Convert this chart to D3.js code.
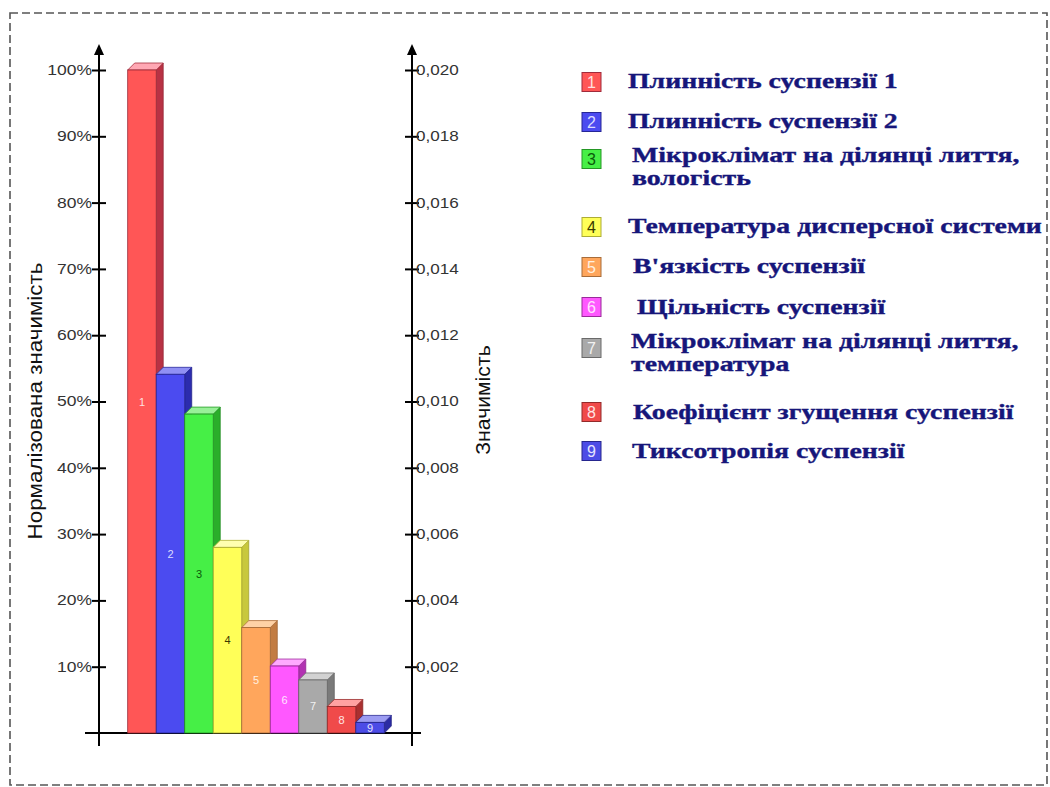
<!DOCTYPE html>
<html>
<head>
<meta charset="utf-8">
<script src="https://cdn.jsdelivr.net/npm/d3@7"></script>
<style>
  html, body { margin: 0; padding: 0; background: #fff; }
  svg { display: block; }
</style>
</head>
<body>
<svg id="chart" width="1050" height="787"></svg>
<script>
// Factor ids and their normalized significance (% of the strongest factor)
const factorIds = ["1", "2", "3", "4", "5", "6", "7", "8", "9"];
const normalizedValues = [100, 54.1, 48.1, 28.0, 15.9, 10.1, 8.0, 4.0, 1.6];
// Legend names (multi-line names split into lines)
const factorNames = [
  ["Плинність суспензії 1"],
  ["Плинність суспензії 2"],
  ["Мікроклімат на ділянці лиття,", "вологість"],
  ["Температура дисперсної системи"],
  ["В'язкість суспензії"],
  ["Щільність суспензії"],
  ["Мікроклімат на ділянці лиття,", "температура"],
  ["Коефіцієнт згущення суспензії"],
  ["Тиксотропія суспензії"]
];
// Tick values for both axes
const leftTicks = [10, 20, 30, 40, 50, 60, 70, 80, 90, 100];
const rightTicks = [0.002, 0.004, 0.006, 0.008, 0.010, 0.012, 0.014, 0.016, 0.018, 0.020];
const rightMax = 0.020;

// Face colours per bar: front, top, side, label
const frontColors = ["#ff5656", "#4b4bf0", "#46ef46", "#ffff58", "#ffa65c", "#ff58ff", "#a9a9a9", "#f04a4a", "#4c4ce6"];
const topColors   = ["#ffa8b4", "#9090f4", "#98f098", "#ffffb0", "#ffd2a6", "#ffaaff", "#d2d2d2", "#ffa2a2", "#9c9cf2"];
const sideColors  = ["#b83244", "#2c2cae", "#2aae2a", "#c8c83c", "#c27c42", "#b232b2", "#7a7a7a", "#aa3030", "#2c2ca4"];
const labelColors = ["#ffe0e0", "#dcdcff", "#0b5a0b", "#3a3a00", "#fff0e0", "#ffe4ff", "#f2f2f2", "#ffe4e4", "#e4e4ff"];

const sans = "Arial, 'Liberation Sans', sans-serif";
const svg = d3.select("#chart");

// Widen text horizontally (the drawing uses a wide, stretched lettering)
function widen(sel, factor) {
  sel.each(function () {
    const len = this.getComputedTextLength();
    d3.select(this).attr("textLength", len * factor).attr("lengthAdjust", "spacingAndGlyphs");
  });
}

// Dashed frame
svg.append("rect")
  .attr("x", 10).attr("y", 13).attr("width", 1037).attr("height", 772)
  .attr("fill", "none").attr("stroke", "#555").attr("stroke-width", 1.6)
  .attr("stroke-dasharray", "8,4");

const y0 = 733, yTop = 70;
const axisLeftX = 99, axisRightX = 412;

const y = d3.scaleLinear().domain([0, 100]).range([y0, yTop]);
const yRight = d3.scaleLinear().domain([0, rightMax]).range([y0, yTop]);
const x = d3.scaleBand().domain(factorIds).range([127.7, 384.3]).padding(0);

// Baseline
svg.append("line")
  .attr("x1", 85).attr("x2", 421).attr("y1", y0).attr("y2", y0)
  .attr("stroke", "#000").attr("stroke-width", 2);

// Left axis
const leftAxis = svg.append("g").attr("transform", `translate(${axisLeftX},0)`)
  .call(d3.axisLeft(y).tickValues(leftTicks).tickSize(7).tickFormat(d => d + "%"));
leftAxis.select(".domain").remove();
leftAxis.selectAll(".tick line").attr("x1", -7).attr("x2", 7).attr("stroke", "#000").attr("stroke-width", 2);
leftAxis.selectAll(".tick text").attr("x", -7).attr("font-family", sans)
  .attr("font-size", 14).attr("fill", "#333");
widen(leftAxis.selectAll(".tick text"), 1.25);
leftAxis.append("line").attr("x1", 0).attr("x2", 0).attr("y1", 746).attr("y2", 48)
  .attr("stroke", "#000").attr("stroke-width", 2);
leftAxis.append("path").attr("d", "M-5,55 L0,44 L5,55 Z").attr("fill", "#000");

// Right axis
const rightAxis = svg.append("g").attr("transform", `translate(${axisRightX},0)`)
  .call(d3.axisRight(yRight).tickValues(rightTicks).tickSize(7)
    .tickFormat(d => d3.format(".3f")(d).replace(".", ",")));
rightAxis.select(".domain").remove();
rightAxis.selectAll(".tick line").attr("x1", -7).attr("x2", 7).attr("stroke", "#000").attr("stroke-width", 2);
rightAxis.selectAll(".tick text").attr("x", 4).attr("font-family", sans)
  .attr("font-size", 14).attr("fill", "#333");
widen(rightAxis.selectAll(".tick text"), 1.22);
rightAxis.append("line").attr("x1", 0).attr("x2", 0).attr("y1", 746).attr("y2", 48)
  .attr("stroke", "#000").attr("stroke-width", 2);
rightAxis.append("path").attr("d", "M-5,55 L0,44 L5,55 Z").attr("fill", "#000");

// Axis titles
svg.append("text")
  .attr("transform", "translate(42,401) rotate(-90)")
  .attr("text-anchor", "middle")
  .attr("font-family", sans).attr("font-size", 20).attr("fill", "#111")
  .text("Нормалізована значимість")
  .call(widen, 1.12);
svg.append("text")
  .attr("transform", "translate(490,400) rotate(-90)")
  .attr("text-anchor", "middle")
  .attr("font-family", sans).attr("font-size", 20).attr("fill", "#111")
  .text("Значимість")
  .call(widen, 1.06);

// 3D bars (drawn left to right so each bar covers the side of the one before)
const depth = 7;
const bars = svg.append("g");
factorIds.forEach((id, i) => {
  const xl = x(id), xr = x(id) + x.bandwidth();
  const yt = y(normalizedValues[i]);
  const g = bars.append("g");
  g.append("polygon")
    .attr("points", [[xr, yt], [xr + depth, yt - depth], [xr + depth, y0 - depth], [xr, y0]].join(" "))
    .attr("fill", sideColors[i]).attr("stroke", d3.color(sideColors[i]).darker(0.6)).attr("stroke-width", 0.8);
  g.append("polygon")
    .attr("points", [[xl, yt], [xl + depth, yt - depth], [xr + depth, yt - depth], [xr, yt]].join(" "))
    .attr("fill", topColors[i]).attr("stroke", d3.color(sideColors[i]).darker(0.3)).attr("stroke-width", 0.8);
  g.append("rect")
    .attr("x", xl).attr("y", yt).attr("width", x.bandwidth()).attr("height", y0 - yt)
    .attr("fill", frontColors[i]).attr("stroke", d3.color(sideColors[i]).darker(0.5)).attr("stroke-width", 0.8);
  g.append("text")
    .attr("x", (xl + xr) / 2).attr("y", (yt + y0) / 2 + 4)
    .attr("text-anchor", "middle")
    .attr("font-family", sans).attr("font-size", 11)
    .attr("fill", labelColors[i])
    .text(id);
});

// Legend
const legendRowY = [82, 122, 159, 227, 267, 307, 348, 412, 451];
const legendTextX = [628, 628, 632, 628, 633, 637, 631, 633, 632];
const legendBaseline = [6, 6, 3, 6, 6, 7, 0, 7, 7];
const legendLineGap = 23;
const legend = svg.append("g");
factorIds.forEach((id, i) => {
  const cy = legendRowY[i];
  legend.append("rect")
    .attr("x", 582).attr("y", cy - 9.5).attr("width", 19).attr("height", 19)
    .attr("fill", frontColors[i]).attr("stroke", d3.color(sideColors[i]).darker(0.4)).attr("stroke-width", 1);
  legend.append("text")
    .attr("x", 591.5).attr("y", cy + 6).attr("text-anchor", "middle")
    .attr("font-family", sans).attr("font-size", 16)
    .attr("fill", labelColors[i])
    .text(id);
  factorNames[i].forEach((ln, k) => {
    legend.append("text")
      .attr("transform", `translate(${legendTextX[i]},${cy + legendBaseline[i] + k * legendLineGap}) scale(1.39,1)`)
      .attr("font-family", "'Liberation Serif', 'Times New Roman', serif")
      .attr("font-weight", "bold").attr("font-size", 20)
      .attr("fill", "#16167a").attr("stroke", "#16167a").attr("stroke-width", 0.35)
      .text(ln);
  });
});
</script>
</body>
</html>
